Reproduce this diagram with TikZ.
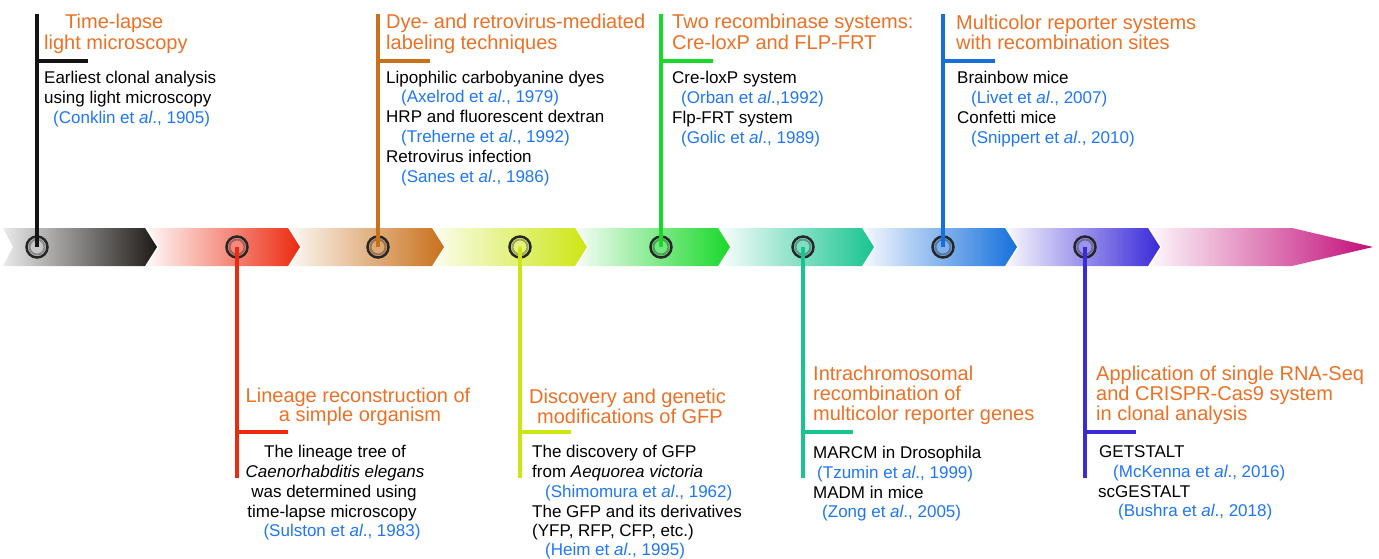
\documentclass[tikz,border=0pt]{standalone}
\usepackage{fontspec}
\setmainfont{Liberation Sans}
\definecolor{ttlc}{RGB}{238,112,36}
\definecolor{citc}{RGB}{30,118,250}
\definecolor{cA}{RGB}{20,20,20}
\definecolor{cB}{RGB}{236,42,16}
\definecolor{cC}{RGB}{200,112,26}
\definecolor{cD}{RGB}{204,230,20}
\definecolor{cE}{RGB}{24,216,42}
\definecolor{cF}{RGB}{24,196,144}
\definecolor{cG}{RGB}{22,112,220}
\definecolor{cH}{RGB}{58,42,216}
\definecolor{cI}{RGB}{194,12,120}
\tikzset{
  ttltext/.style={font=\fontsize{20}{24}\selectfont, text=ttlc, inner sep=0pt, anchor=base west},
  bodytext/.style={font=\fontsize{17}{20}\selectfont, text=black, inner sep=0pt, anchor=base west},
  citetext/.style={bodytext, text=citc},
  stem/.style={line width=4pt},
  dot/.style={circle, minimum size=21pt, inner sep=0pt, draw=black!85, line width=2.5pt},
}
\newcommand{\etal}{et \textit{al}.}
\begin{document}
\begin{tikzpicture}[x=1pt,y=-1pt]
\useasboundingbox (0,0) rectangle (1379,558);
% band segments
\shade[left color=black!8, right color=cA!95!brown] (3,228) -- (145,228) -- (157,247) -- (145,266) -- (3,266) -- (13,247) -- cycle;
\shade[left color=cB!3!white, right color=cB] (147,228) -- (288,228) -- (300,247) -- (288,266) -- (147,266) -- (159,247) -- cycle;
\shade[left color=cC!5!white, right color=cC] (290,228) -- (432,228) -- (444,247) -- (432,266) -- (290,266) -- (302,247) -- cycle;
\shade[left color=cD!8!white, right color=cD] (434,228) -- (575,228) -- (587,247) -- (575,266) -- (434,266) -- (446,247) -- cycle;
\shade[left color=cE!5!white, right color=cE] (577,228) -- (718,228) -- (730,247) -- (718,266) -- (577,266) -- (589,247) -- cycle;
\shade[left color=cF!3!white, right color=cF] (720,228) -- (862,228) -- (874,247) -- (862,266) -- (720,266) -- (732,247) -- cycle;
\shade[left color=cG!5!white, right color=cG] (864,228) -- (1005,228) -- (1017,247) -- (1005,266) -- (864,266) -- (876,247) -- cycle;
\shade[left color=cH!4!white, right color=cH] (1007,228) -- (1148,228) -- (1160,247) -- (1148,266) -- (1007,266) -- (1019,247) -- cycle;
\shade[left color=cI!3!white, right color=cI] (1150,228) -- (1292,228) -- (1373,247) -- (1292,266) -- (1150,266) -- (1162,247) -- cycle;
% circles
\node[dot, fill=black!22] (c1) at (37,247) {};
\node[dot, fill=cB!55!white] (c2) at (237,247) {};
\node[dot, fill=cC!60!white] (c3) at (378,247) {};
\node[dot, fill=cD!55!white] (c4) at (520,247) {};
\node[dot, fill=cE!60!white] (c5) at (661,247) {};
\node[dot, fill=cF!55!white] (c6) at (803,247) {};
\node[dot, fill=cG!55!white] (c7) at (943,247) {};
\node[dot, fill=cH!50!white] (c8) at (1085,247) {};
\foreach \n in {c1,c2,c3,c4,c5,c6,c7,c8}{
  \draw[black, opacity=0.3, line width=2pt] (\n.center) circle[radius=7.5pt];
}
% end coordinates
\coordinate (e1) at (37,14);    \coordinate (k1) at (37,61);   \coordinate (m1) at (88,61);
\coordinate (e3) at (378,14);   \coordinate (k3) at (378,61);  \coordinate (m3) at (430,61);
\coordinate (e5) at (661,14);   \coordinate (k5) at (661,61);  \coordinate (m5) at (713,61);
\coordinate (e7) at (943,14);   \coordinate (k7) at (943,61);  \coordinate (m7) at (995,61);
\coordinate (e2) at (237,478);  \coordinate (k2) at (237,432); \coordinate (m2) at (288,432);
\coordinate (e4) at (520,478);  \coordinate (k4) at (520,432); \coordinate (m4) at (571,432);
\coordinate (e6) at (803,478);  \coordinate (k6) at (803,432); \coordinate (m6) at (853,432);
\coordinate (e8) at (1085,478); \coordinate (k8) at (1085,432);\coordinate (m8) at (1136,432);
% stems and ticks
\draw[stem, cA] (c1.center) -- (e1); \draw[stem, cA] (k1) -- (m1);
\draw[stem, cB] (c2.center) -- (e2); \draw[stem, cB] (k2) -- (m2);
\draw[stem, cC] (c3.center) -- (e3); \draw[stem, cC] (k3) -- (m3);
\draw[stem, cD] (c4.center) -- (e4); \draw[stem, cD] (k4) -- (m4);
\draw[stem, cE] (c5.center) -- (e5); \draw[stem, cE] (k5) -- (m5);
\draw[stem, cF] (c6.center) -- (e6); \draw[stem, cF] (k6) -- (m6);
\draw[stem, cG] (c7.center) -- (e7); \draw[stem, cG] (k7) -- (m7);
\draw[stem, cH] (c8.center) -- (e8); \draw[stem, cH] (k8) -- (m8);
% top 1
\node[ttltext] (t1a) at (65,28) {Time-lapse};
\node[ttltext] (t1b) at (44,49) {light microscopy};
\node[bodytext] (t1c) at (44,83) {Earliest clonal analysis};
\node[bodytext] (t1d) at (44,103) {using light microscopy};
\node[citetext] (t1e) at (53,123) {(Conklin \etal, 1905)};
% top 2
\node[ttltext] (t3a) at (386,28) {Dye- and retrovirus-mediated};
\node[ttltext] (t3b) at (386,49) {labeling techniques};
\node[bodytext] (t3c) at (386,83) {Lipophilic carbobyanine dyes};
\node[citetext] (t3d) at (401,102.5) {(Axelrod \etal, 1979)};
\node[bodytext] (t3e) at (386,122.5) {HRP and fluorescent dextran};
\node[citetext] (t3f) at (401,142.5) {(Treherne \etal, 1992)};
\node[bodytext] (t3g) at (386,162.5) {Retrovirus infection};
\node[citetext] (t3h) at (401,182) {(Sanes \etal, 1986)};
% top 3
\node[ttltext] (t5a) at (672,28) {Two recombinase systems:};
\node[ttltext] (t5b) at (672,49) {Cre-loxP and FLP-FRT};
\node[bodytext] (t5c) at (672,83) {Cre-loxP system};
\node[citetext] (t5d) at (681,103) {(Orban \etal,1992)};
\node[bodytext] (t5e) at (672,123) {Flp-FRT system};
\node[citetext] (t5f) at (681,143) {(Golic \etal, 1989)};
% top 4
\node[ttltext] (t7a) at (956,29) {Multicolor reporter systems};
\node[ttltext] (t7b) at (956,49) {with recombination sites};
\node[bodytext] (t7c) at (957,83) {Brainbow mice};
\node[citetext] (t7d) at (971,103) {(Livet \etal, 2007)};
\node[bodytext] (t7e) at (957,123) {Confetti mice};
\node[citetext] (t7f) at (971,143) {(Snippert \etal, 2010)};
% bottom 1
\node[ttltext, anchor=base] (b2a) at (358,402) {Lineage reconstruction of};
\node[ttltext, anchor=base] (b2b) at (360,421) {a simple organism};
\node[bodytext, anchor=base] (b2c) at (335,457) {The lineage tree of};
\node[bodytext, anchor=base] (b2d) at (335,477) {\textit{Caenorhabditis elegans}};
\node[bodytext, anchor=base] (b2e) at (334,497) {was determined using};
\node[bodytext, anchor=base] (b2f) at (332,517) {time-lapse microscopy};
\node[citetext, anchor=base] (b2g) at (342,536) {(Sulston \etal, 1983)};
% bottom 2
\node[ttltext] (b4a) at (529,403) {Discovery and genetic};
\node[ttltext] (b4b) at (537,423) {modifications of GFP};
\node[bodytext] (b4c) at (532,457) {The discovery of GFP};
\node[bodytext] (b4d) at (532,477) {from \textit{Aequorea victoria}};
\node[citetext] (b4e) at (545,497) {(Shimomura \etal, 1962)};
\node[bodytext] (b4f) at (532,517) {The GFP and its derivatives};
\node[bodytext] (b4g) at (532,536) {(YFP, RFP, CFP, etc.)};
\node[citetext] (b4h) at (545,555) {(Heim \etal, 1995)};
% bottom 3
\node[ttltext] (b6a) at (813,380) {Intrachromosomal};
\node[ttltext] (b6b) at (813,400) {recombination of};
\node[ttltext] (b6c) at (813,420) {multicolor reporter genes};
\node[bodytext] (b6d) at (813,458) {MARCM in Drosophila};
\node[citetext] (b6e) at (817,478) {(Tzumin \etal, 1999)};
\node[bodytext] (b6f) at (813,498) {MADM in mice};
\node[citetext] (b6g) at (822,517) {(Zong \etal, 2005)};
% bottom 4
\node[ttltext] (b8a) at (1096,380) {Application of single RNA-Seq};
\node[ttltext] (b8b) at (1096,400) {and CRISPR-Cas9 system};
\node[ttltext] (b8c) at (1096,420) {in clonal analysis};
\node[bodytext] (b8d) at (1099,457) {GETSTALT};
\node[citetext] (b8e) at (1113,477) {(McKenna \etal, 2016)};
\node[bodytext] (b8f) at (1098,497) {scGESTALT};
\node[citetext] (b8g) at (1118,516) {(Bushra \etal, 2018)};
\end{tikzpicture}
\end{document}
